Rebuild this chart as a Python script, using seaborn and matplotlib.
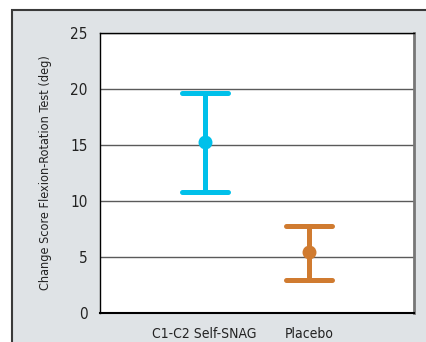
import pandas as pd
import matplotlib.pyplot as plt
import seaborn as sns
from matplotlib.patches import Rectangle

# Values: lower / mean / upper per group
groups = ["C1-C2 Self-SNAG", "Placebo"]
lower = [10.8, 2.95]
mean = [15.25, 5.47]
upper = [19.67, 7.77]
colors = ["#00c0ea", "#d07b30"]
yticks = [0, 5, 10, 15, 20, 25]

# long table: median of (lower, mean, upper) = mean, min-max interval = the bar
rows = []
for g, lo, m, hi in zip(groups, lower, mean, upper):
    for v in (lo, m, hi):
        rows.append({"group": g, "value": v})
df = pd.DataFrame(rows)

sns.set_style("white")
plt.rcParams["font.family"] = ["DejaVu Sans"]
plt.rcParams["font.stretch"] = "condensed"

fig = plt.figure(figsize=(4.26, 3.42), dpi=100)
fig.patch.set_facecolor("white")
bg = Rectangle((12 / 426, -0.1), 1.2, (342 - 10) / 342 + 0.1,
               transform=fig.transFigure, facecolor="#dfe3e6",
               edgecolor="#3a3a3a", linewidth=1.5, zorder=-10)
fig.patches.append(bg)

ax = fig.add_axes([100 / 426, 29 / 342, 314 / 426, 280 / 342])
ax.set_zorder(1)
ax.set_facecolor("white")

sns.pointplot(data=df, x="group", y="value", hue="group", palette=colors,
              estimator="median", errorbar=("pi", 100), capsize=0.44,
              linestyle="none", markersize=8, err_kws={"linewidth": 3.6},
              legend=False, ax=ax)

ax.set_xlim(-1, 2)
ax.set_ylim(0, 25)
ax.set_yticks(yticks)
ax.yaxis.grid(True, color="#5a5a5a", linewidth=1.0)
ax.set_axisbelow(True)
ax.tick_params(axis="both", length=0, labelsize=11, colors="#222222")
ax.tick_params(axis="y", pad=9)
ax.tick_params(axis="x", pad=10, labelsize=10)

ax.set_xlabel("")
ax.set_ylabel("Change Score Flexion-Rotation Test (deg)", fontsize=9.1, color="#222222")
ax.yaxis.set_label_coords(-0.152, 0.5)

for side in ["top", "left", "bottom"]:
    ax.spines[side].set_color("black")
ax.spines["top"].set_linewidth(1.0)
ax.spines["left"].set_linewidth(1.0)
ax.spines["bottom"].set_linewidth(1.5)
ax.spines["right"].set_color("#777777")
ax.spines["right"].set_linewidth(2.0)

plt.savefig("out.png", dpi=100)
